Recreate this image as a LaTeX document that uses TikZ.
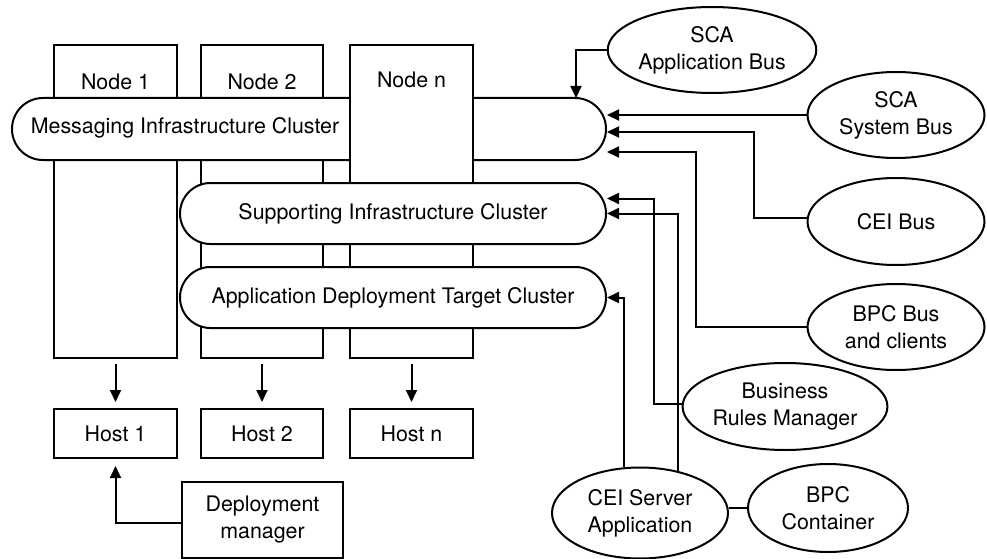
\documentclass[tikz,border=0pt]{standalone}
\usepackage{fontspec}
\setmainfont{TeX Gyre Heros}
\usetikzlibrary{shapes.geometric,shapes.misc,arrows.meta,calc}

\begin{document}
\begin{tikzpicture}[x=1pt,y=-1pt,line width=2pt,
    every node/.style={font=\fontsize{21.4}{27}\selectfont,align=center},
    nodebox/.style={draw,fill=white,inner sep=0pt,minimum width=123,minimum height=313},
    hostbox/.style={draw,fill=white,minimum width=123,minimum height=49},
    pill/.style={draw,fill=white,rounded rectangle,inner sep=0pt,minimum height=61},
    bus/.style={draw,ellipse,inner sep=0pt,minimum width=177,minimum height=86},
    arr/.style={-{Triangle[length=12pt,width=11pt]}}]
        \useasboundingbox (0,0) rectangle (987,559);

        % Nodes behind the messaging cluster
        \node[nodebox] (node1) at (115.5,201.5) {};
        \node[nodebox,minimum width=122] (node2) at (262,201.5) {};
        \node (node1txt) at (115.5,82) {Node 1};
        \node (node2txt) at (262,82) {Node 2};

        % Messaging Infrastructure Cluster
        \node[pill,minimum width=594,minimum height=62] (msg) at (309,129) {};
        \node (msgtxt) at (185,128) {Messaging Infrastructure Cluster};

        % Node n in front of it
        \node[nodebox] (noden) at (411.5,201.5) {};
        \node (nodentxt) at (411.5,80) {Node n};

        % other clusters
        \node[pill,minimum width=426] (sup) at (393,213.5) {Supporting Infrastructure Cluster};
        \node[pill,minimum width=426] (app) at (393,297.5) {Application Deployment Target Cluster};

        % Hosts
        \node[hostbox] (host1) at (115.5,433.5) {Host 1};
        \node[hostbox,minimum width=122] (host2) at (262,433.5) {Host 2};
        \node[hostbox] (hostn) at (411.5,433.5) {Host n};
        \foreach \n in {1,2,n} {
            \draw[arr,shorten <=5pt,shorten >=6pt] (node\n) -- (host\n);
        }

        % Deployment manager
        \node[draw,minimum width=161,minimum height=76] (dm) at (262.5,520) {Deployment\\manager};
        \draw[arr,shorten >=7pt] ([yshift=-3pt]dm.west) -| (host1.south);

        % Buses and applications
        \node[bus,minimum width=178] (scaapp) at (712,50) {SCA\\Application Bus};
        \node[bus] (sys) at (896,115) {SCA\\System Bus};
        \node[bus,minimum height=87] (cei) at (896,221.5) {CEI Bus};
        \node[bus] (bpcbus) at (896,327) {BPC Bus\\and clients};
        \node[bus,minimum height=87] (brm) at (785,406.5) {Business\\Rules Manager};
        \node[bus,minimum width=176,minimum height=91] (ceiapp) at (640,513) {CEI Server\\Application};
        \node[bus,minimum width=160,minimum height=88] (bpccont) at (828,508) {BPC\\Container};

        % Connectors
        \draw[arr] (scaapp.west) -| ($(msg.east)+(-31,-31)$);
        \draw[arr] (sys.west) -- (sys.west -| msg.east);
        \draw[arr] ([yshift=4pt]cei.west) -- ++(-53,0) |- ($(msg.east)+(0,3)$);
        \draw[arr] (bpcbus.west) -- ++(-111,0) |- ($(msg.east)+(0,23)$);
        \draw[arr] ([yshift=3pt]brm.west) -- ++(-28,0) |- ([yshift=15pt]sup.east);
        \draw[arr] (ceiapp.48) |- (sup.east);
        \draw[arr] (ceiapp.109) |- (app.east);
        \draw (bpccont.west) -- (bpccont.west -| ceiapp.east);
    \end{tikzpicture}
\end{document}
